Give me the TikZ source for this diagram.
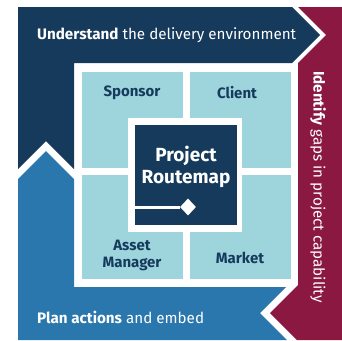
\documentclass[tikz,border=0pt]{standalone}
\usepackage{fontspec}
\setmainfont{Fira Sans}
\usetikzlibrary{shapes.geometric}
\definecolor{navy}{HTML}{163A5C}
\definecolor{blueband}{HTML}{2A77AE}
\definecolor{maroon}{HTML}{8A1840}
\definecolor{tilecyan}{HTML}{9ED5DD}
\tikzset{
  bandtext/.style={text=white, inner sep=0pt, font=\fontsize{15.2}{17}\selectfont},
  tiletext/.style={text=navy, inner sep=0pt, align=center, font=\fontsize{15}{17}\selectfont\bfseries},
  centertext/.style={text=white, inner sep=0pt, align=center, font=\fontsize{19}{21.5}\selectfont\bfseries},
}
\begin{document}
\begin{tikzpicture}[x=1pt,y=-1pt]
\useasboundingbox (0,0) rectangle (342,340);
\fill[white] (0,0) rectangle (342,340);
% bands
\fill[navy] (18,7) -- (292,7) -- (320,35) -- (292,63) -- (74,63) -- (74,169) -- (46,141) -- (18,169) -- cycle;
\fill[blueband] (18,179) -- (46,151) -- (74,179) -- (74,287) -- (286,287) -- (260,313) -- (287,340) -- (18,340) -- cycle;
\fill[maroon] (298,7) -- (342,7) -- (342,340) -- (297,340) -- (270,313) -- (298,285) -- (298,63) -- (326,35) -- cycle;
% tiles
\fill[tilecyan] (82,72) rectangle (183,168);
\fill[tilecyan] (190,72) rectangle (291,168);
\fill[tilecyan] (82,175) rectangle (183,279);
\fill[tilecyan] (190,175) rectangle (291,279);
% centre
\fill[white] (128,118) rectangle (242,232);
\fill[navy] (135,125) rectangle (237,225);
% texts
\node[bandtext, anchor=west] (und) at (37,35) {\textbf{Understand} the delivery environment};
\node[bandtext, anchor=west] (plan) at (37,317) {\textbf{Plan actions} and embed};
\node[bandtext, rotate=-90] (ident) at (318,187) {\textbf{Identify} gaps in project capability};
\node[tiletext] (sponsor) at (132,93) {Sponsor};
\node[tiletext] (client) at (237,93) {Client};
\node[tiletext] (asset) at (132,255) {Asset\\Manager};
\node[tiletext] (market) at (240,258) {Market};
\node[centertext] (proj) at (186,167) {Project\\Routemap};
% route line with diamond
\node[diamond, fill=white, minimum width=16pt, minimum height=17pt, inner sep=0pt] (dia) at (188,207) {};
\coordinate (lstart) at (135,207);
\draw[white, line width=3pt] (lstart) -- (dia);
\end{tikzpicture}
\end{document}
